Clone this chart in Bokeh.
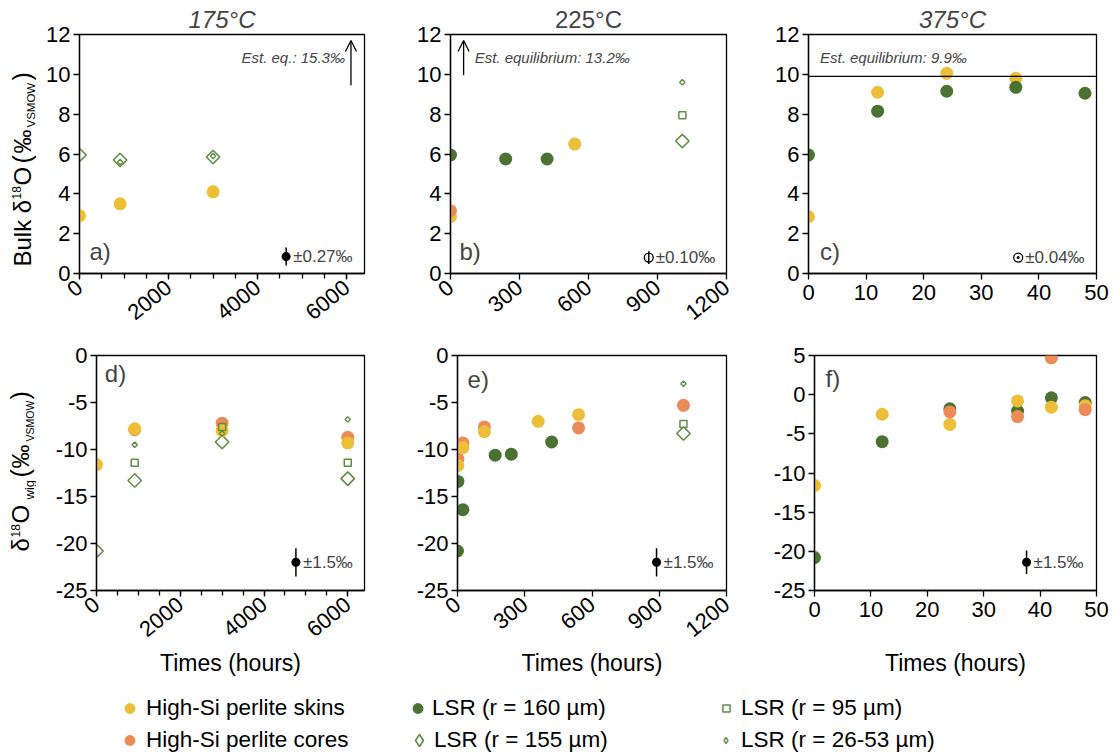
import math
from bokeh.plotting import figure
from bokeh.layouts import column, row
from bokeh.models import (Range1d, FixedTicker, Label, Arrow, OpenHead, Span,
                          Legend, LegendItem, PrintfTickFormatter)
from bokeh.core.properties import value
from bokeh.embed import file_html
from bokeh.resources import INLINE

# ---------------- data ----------------
# a) 175 °C bulk
a_skins_t = [0, 912, 3000];        a_skins_v = [2.9, 3.5, 4.1]
a_l155_t = [0, 912, 3000];         a_l155_v = [5.95, 5.7, 5.85]
a_l2653_t = [912, 3000];           a_l2653_v = [5.6, 5.9]
# b) 225 °C bulk
b_skins_t = [0, 540];              b_skins_v = [2.85, 6.5]
b_cores_t = [0];                   b_cores_v = [3.15]
b_l160_t = [0, 240, 420];          b_l160_v = [5.95, 5.75, 5.75]
b_l155_t = [1008];                 b_l155_v = [6.65]
b_l95_t = [1008];                  b_l95_v = [7.95]
b_l2653_t = [1008];                b_l2653_v = [9.6]
# c) 375 °C bulk
c_skins_t = [0, 12, 24, 36];       c_skins_v = [2.85, 9.1, 10.05, 9.8]
c_l160_t = [0, 12, 24, 36, 48];    c_l160_v = [5.95, 8.15, 9.15, 9.35, 9.05]
# d) 175 °C wig
d_skins_t = [0, 912, 3000, 6000];  d_skins_v = [-11.6, -7.8, -8.0, -9.3]
d_cores_t = [912, 3000, 6000];     d_cores_v = [-7.9, -7.2, -8.7]
d_l155_t = [0, 912, 3000, 6000];   d_l155_v = [-20.8, -13.3, -9.2, -13.1]
d_l95_t = [912, 3000, 6000];       d_l95_v = [-11.4, -7.6, -11.4]
d_l2653_t = [912, 3000, 6000];     d_l2653_v = [-9.5, -8.3, -6.8]
# e) 225 °C wig
e_skins_t = [2, 24, 120, 360, 540];          e_skins_v = [-11.7, -9.8, -8.1, -7.0, -6.3]
e_cores_t = [2, 24, 120, 540, 1008];         e_cores_v = [-11.0, -9.3, -7.6, -7.7, -5.3]
e_l160_t = [0, 2, 24, 168, 240, 420];        e_l160_v = [-20.8, -13.4, -16.4, -10.6, -10.5, -9.2]
e_l155_t = [1008];                           e_l155_v = [-8.3]
e_l95_t = [1008];                            e_l95_v = [-7.3]
e_l2653_t = [1008];                          e_l2653_v = [-3.0]
# f) 375 °C wig
f_skins_t = [0, 12, 24, 36, 42, 48];  f_skins_v = [-11.6, -2.5, -3.8, -0.8, -1.6, -1.4]
f_l160_t = [0, 12, 24, 36, 42, 48];   f_l160_v = [-20.8, -6.0, -1.8, -2.1, -0.4, -1.0]
f_cores_t = [24, 36, 42, 48];         f_cores_v = [-2.2, -2.8, 4.7, -1.9]

temps = ["175°C", "225°C", "375°C"]
eq_text = ["Est. eq.: 15.3‰", "Est. equilibrium: 13.2‰", "Est. equilibrium: 9.9‰"]
eq_c = 9.9
err_bulk = [0.27, 0.10, 0.04]
err_wig = [1.5, 1.5, 1.5]
series_names = ["High-Si perlite skins", "High-Si perlite cores", "LSR (r = 160 µm)",
                "LSR (r = 155 µm)", "LSR (r = 95 µm)", "LSR (r = 26-53 µm)"]
x_ticks_a = [0, 2000, 4000, 6000]
x_ticks_b = [0, 300, 600, 900, 1200]
x_ticks_c = [0, 10, 20, 30, 40, 50]
y_ticks_top = [0, 2, 4, 6, 8, 10, 12]
y_ticks_de = [-25, -20, -15, -10, -5, 0]
y_ticks_f = [-25, -20, -15, -10, -5, 0, 5]

# ---------------- styles ----------------
FONT = "Liberation Sans"
YEL = "#EDBF38"
ORA = "#EC8A58"
DKG = "#4B7232"
OPG = "#5E8D44"

STY = {
    "skins": dict(marker="circle", size=13, fill_color=YEL, line_color=None),
    "cores": dict(marker="circle", size=13, fill_color=ORA, line_color=None),
    "l160": dict(marker="circle", size=13, fill_color=DKG, line_color=None),
    "l155": dict(marker="square", size=9.5, angle=math.pi / 4, fill_color=None, line_color=OPG, line_width=1.6),
    "l95": dict(marker="square", size=7, fill_color=None, line_color=OPG, line_width=1.5),
    "l2653": dict(marker="square", size=3.8, angle=math.pi / 4, fill_color=None, line_color=OPG, line_width=1.4),
}


def make_fig(w, h, xr, yr, bl, br, bt, bb, xt, yt, minor=None, rot=True, title=None, italic=True):
    p = figure(width=w, height=h, x_range=Range1d(*xr), y_range=Range1d(*yr),
               toolbar_location=None, output_backend="svg",
               min_border_left=bl, min_border_right=br, min_border_top=bt, min_border_bottom=bb)
    p.grid.visible = False
    p.outline_line_color = "black"
    p.outline_line_width = 1.3
    p.outline_line_alpha = 1.0
    p.xaxis.ticker = FixedTicker(ticks=xt, minor_ticks=minor or [])
    p.yaxis.ticker = FixedTicker(ticks=yt, minor_ticks=[])
    p.xaxis.formatter = PrintfTickFormatter(format="%d")
    p.yaxis.formatter = PrintfTickFormatter(format="%d")
    for ax in p.axis:
        ax.axis_line_color = "black"
        ax.axis_line_width = 1.3
        ax.major_tick_line_color = "black"
        ax.major_tick_line_width = 1.3
        ax.minor_tick_line_color = "black"
        ax.minor_tick_line_width = 1.3
        ax.major_tick_in = 0
        ax.major_tick_out = 6
        ax.minor_tick_in = 0
        ax.minor_tick_out = 5
        ax.major_label_text_font = FONT
        ax.major_label_text_font_size = "22px"
        ax.major_label_text_color = "black"
        ax.axis_label_text_font = FONT
        ax.axis_label_text_font_size = "23px"
        ax.axis_label_text_font_style = "normal"
        ax.axis_label_text_color = "black"
    p.yaxis.major_label_standoff = 3
    p.xaxis.major_label_standoff = 5
    if rot:
        p.xaxis.major_label_orientation = 0.68
    if title:
        p.title.text = title
        p.title.align = "center"
        p.title.text_font = FONT
        p.title.text_font_size = "24px"
        p.title.text_font_style = "italic" if italic else "normal"
        p.title.standoff = 3
    else:
        p.title.visible = False
    return p


def label_strip(h, bt, bb, y_top, y_bot, pieces, close_y, close_x, close_size):
    """Narrow figure (same frame top/bottom as its neighbour) carrying a rotated
    y-axis title built of pieces, so that sub- and superscripts can be drawn."""
    s = figure(width=36, height=h, x_range=Range1d(0, 36), y_range=Range1d(y_bot, y_top),
               toolbar_location=None, output_backend="svg", min_border_left=0,
               min_border_right=0, min_border_top=bt, min_border_bottom=bb)
    s.axis.visible = False
    s.grid.visible = False
    s.outline_line_color = None
    s.title.visible = False
    for txt, ypos, size, xc in pieces:
        s.add_layout(Label(x=xc, y=ypos, text=txt, angle=math.pi / 2, text_font=FONT,
                           text_font_size="%spx" % size, text_align="left",
                           text_baseline="middle", text_color="black"))
    # closing parenthesis drawn as a text glyph
    s.text(x=[close_x], y=[close_y], text=[")"], angle=math.pi / 2,
           text_font=value(FONT), text_font_size="%spx" % close_size,
           text_align="left", text_baseline="middle", text_color="black")
    return s


def draw(p, key, t, v):
    p.scatter(t, v, **STY[key])


def letter(p, txt, x, y):
    p.add_layout(Label(x=x, y=y, text=txt, text_font=FONT, text_font_size="24px",
                       text_baseline="middle", text_align="left"))


def err_mark(p, x, y, err, half, txt, kind="dot"):
    p.segment(x0=[x], y0=[y - half], x1=[x], y1=[y + half], line_color="black", line_width=1.5)
    if kind == "dot":
        p.scatter([x], [y], marker="circle", size=9, fill_color="black", line_color=None)
    elif kind == "ring":
        p.scatter([x], [y], marker="circle", size=9, fill_color=None, line_color="black", line_width=1.3)
    else:
        p.scatter([x], [y], marker="circle", size=9, fill_color="white", line_color="black", line_width=1.3)
        p.scatter([x], [y], marker="circle", size=3, fill_color="black", line_color=None)
    p.add_layout(Label(x=x, y=y, x_offset=7, text="±%s‰" % txt, text_font=FONT,
                       text_font_size="17px", text_baseline="middle", text_align="left"))


minor_a = list(range(0, 6401, 500))
EQ_FONT_SIZE = "15px"

# ---------------- row 1 ----------------
# strip y values are page pixels from the top (range flipped to match the frame at 34..273)
ya = label_strip(330, 34, 57, 34, 273,
                 [("Bulk δ", 266, 24, 21.5), ("18", 199, 12, 15.5), ("O", 185, 24, 21.5),
                  ("(", 163, 25, 21.5), ("‰", 153, 24, 21.5), ("VSMOW", 127, 11.5, 30.5)],
                 80, 21.5, 25)

pa = make_fig(334, 330, (0, 6400), (0, 12), 43, 6, 34, 57, x_ticks_a, y_ticks_top,
              minor=minor_a, title=temps[0], italic=True)
draw(pa, "skins", a_skins_t, a_skins_v)
draw(pa, "l155", a_l155_t, a_l155_v)
draw(pa, "l2653", a_l2653_t, a_l2653_v)
pa.add_layout(Label(x=5960, y=10.85, text=eq_text[0], text_font=FONT, text_font_size=EQ_FONT_SIZE,
                    text_font_style="italic", text_align="right", text_baseline="middle"))
pa.add_layout(Arrow(end=OpenHead(size=11, line_width=1.3, line_color="black"),
                    x_start=6096, y_start=9.45, x_end=6096, y_end=11.7,
                    line_width=1.3, line_color="black"))
letter(pa, "a)", 224, 1.1)
err_mark(pa, 4640, 0.85, err_bulk[0], 0.45, "0.27", "dot")

pb = make_fig(370, 330, (0, 1200), (0, 12), 80, 14, 34, 57, x_ticks_b, y_ticks_top,
              title=temps[1], italic=False)
draw(pb, "skins", b_skins_t, b_skins_v)
draw(pb, "cores", b_cores_t, b_cores_v)
draw(pb, "l160", b_l160_t, b_l160_v)
draw(pb, "l155", b_l155_t, b_l155_v)
draw(pb, "l95", b_l95_t, b_l95_v)
draw(pb, "l2653", b_l2653_t, b_l2653_v)
pb.add_layout(Arrow(end=OpenHead(size=11, line_width=1.3, line_color="black"),
                    x_start=57, y_start=9.95, x_end=57, y_end=11.7,
                    line_width=1.3, line_color="black"))
pb.add_layout(Label(x=105, y=10.85, text=eq_text[1], text_font=FONT, text_font_size=EQ_FONT_SIZE,
                    text_font_style="italic", text_align="left", text_baseline="middle"))
letter(pb, "b)", 39, 1.1)
err_mark(pb, 862, 0.8, err_bulk[1], 0.32, "0.10", "ring")

pc = make_fig(373, 330, (0, 50), (0, 12), 68, 17, 34, 57, x_ticks_c, y_ticks_top,
              rot=False, title=temps[2], italic=True)
pc.add_layout(Span(location=eq_c, dimension="width", line_color="black", line_width=1.4))
draw(pc, "skins", c_skins_t, c_skins_v)
draw(pc, "l160", c_l160_t, c_l160_v)
pc.add_layout(Label(x=2.0, y=10.85, text=eq_text[2], text_font=FONT, text_font_size=EQ_FONT_SIZE,
                    text_font_style="italic", text_align="left", text_baseline="middle"))
letter(pc, "c)", 2.0, 1.1)
err_mark(pc, 36.4, 0.8, err_bulk[2], 0.2, "0.04", "dotring")

# ---------------- row 2 ----------------
yd = label_strip(360, 25, 100, 355, 590,
                 [("δ", 551, 24, 19.5), ("18", 537, 12, 14.5), ("O", 523, 24, 19.5),
                  ("wig", 499, 13, 28.5), ("(", 477, 25, 19.5), ("‰", 468, 24, 19.5),
                  ("VSMOW", 441, 10.5, 29.5)],
                 399, 19.5, 25)

pd_ = make_fig(334, 360, (0, 6400), (-25, 0), 60, 6, 25, 100, x_ticks_a, y_ticks_de,
               minor=minor_a)
pd_.xaxis.axis_label = "Times (hours)"
pd_.xaxis.axis_label_standoff = 3
draw(pd_, "l155", d_l155_t, d_l155_v)
draw(pd_, "cores", d_cores_t, d_cores_v)
draw(pd_, "skins", d_skins_t, d_skins_v)
draw(pd_, "l95", d_l95_t, d_l95_v)
draw(pd_, "l2653", d_l2653_t, d_l2653_v)
letter(pd_, "d)", 198, -1.9)
err_mark(pd_, 4762, -22, err_wig[0], err_wig[0], "1.5", "dot")

pe = make_fig(370, 360, (0, 1200), (-25, 0), 87, 14, 25, 100, x_ticks_b, y_ticks_de)
pe.xaxis.axis_label = "Times (hours)"
pe.xaxis.axis_label_standoff = 3
draw(pe, "l160", e_l160_t, e_l160_v)
draw(pe, "cores", e_cores_t, e_cores_v)
draw(pe, "skins", e_skins_t, e_skins_v)
draw(pe, "l155", e_l155_t, e_l155_v)
draw(pe, "l95", e_l95_t, e_l95_v)
draw(pe, "l2653", e_l2653_t, e_l2653_v)
letter(pe, "e)", 45, -2.5)
err_mark(pe, 888, -22, err_wig[1], err_wig[1], "1.5", "dot")

pf = make_fig(373, 360, (0, 50), (-25, 5), 74, 17, 25, 100, x_ticks_c, y_ticks_f, rot=False)
pf.xaxis.axis_label = "Times (hours)"
pf.xaxis.axis_label_standoff = 30
draw(pf, "l160", f_l160_t, f_l160_v)
draw(pf, "skins", f_skins_t, f_skins_v)
draw(pf, "cores", f_cores_t, f_cores_v)
letter(pf, "f)", 1.95, 2.1)
err_mark(pf, 37.6, -21.4, err_wig[2], err_wig[2], "1.5", "dot")

# ---------------- legend ----------------
lf = figure(width=1113, height=65, x_range=Range1d(0, 1), y_range=Range1d(0, 1),
            toolbar_location=None, output_backend="svg", min_border=0)
lf.axis.visible = False
lf.grid.visible = False
lf.outline_line_color = None
lf.title.visible = False
LEG_STY = {
    "skins": dict(marker="circle", fill_color=YEL, line_color=None),
    "cores": dict(marker="circle", fill_color=ORA, line_color=None),
    "l160": dict(marker="circle", fill_color=DKG, line_color=None),
    "l155": dict(marker="diamond", fill_color=None, line_color=OPG, line_width=1.6),
    "l95": dict(marker="square", fill_color=None, line_color=OPG, line_width=1.5),
    "l2653": dict(marker="diamond", fill_color=None, line_color=OPG, line_width=1.4),
}
keys = ["skins", "cores", "l160", "l155", "l95", "l2653"]
# (glyph box width, left x, bottom y, standoff) for each legend entry
leg_geo = [(27, 116, 32, 3), (27, 116, 0, 3),
           (27, 404, 32, 1), (30, 404, 0, 0),
           (18, 717, 32, 6), (15, 718, 0, 8)]
for k, name, (gw, lx, ly, so) in zip(keys, series_names, leg_geo):
    # one point, outside the visible range, so only the legend swatch shows
    r = lf.scatter(x=[5], y=[5], **LEG_STY[k])
    leg = Legend(items=[LegendItem(label=name, renderers=[r])], location=(lx, ly),
                 orientation="vertical", background_fill_alpha=0, border_line_color=None,
                 padding=0, margin=0, spacing=0, glyph_width=gw, glyph_height=30,
                 label_height=30, label_standoff=so, label_text_font=FONT,
                 label_text_font_size="22.5px", label_text_color="black",
                 label_text_baseline="middle")
    lf.add_layout(leg)

layout = column(row(ya, pa, pb, pc), row(yd, pd_, pe, pf), lf)
open("out.html", "w").write(file_html(layout, INLINE))
